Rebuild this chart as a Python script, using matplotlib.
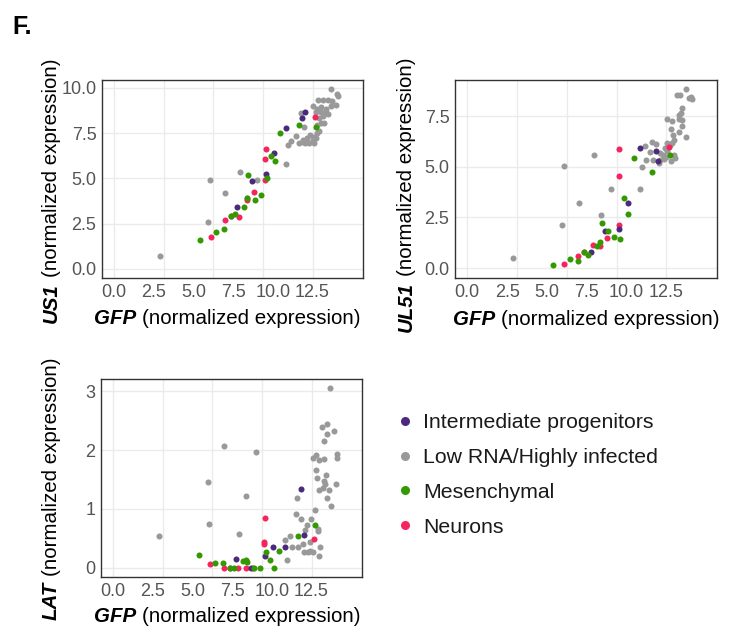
import numpy as np
import matplotlib
matplotlib.use('Agg')
import matplotlib.pyplot as plt
from matplotlib.lines import Line2D

# --- data (GFP on x, viral gene on y) ---
# Intermediate progenitors
gfp_inter = [12.00, 11.83, 10.83, 10.09, 9.55, 8.67, 7.77]
us1_inter = [8.68, 8.32, 7.80, 6.42, 5.23, 4.88, 3.45]
ul51_inter = [5.30, 5.79, 5.95, 3.21, 1.94, 1.84, 0.81]
lat_inter = [0.55, 1.34, 0.35, 0.35, 0.20, 0.00, 0.14]

# Neurons
gfp_neur = [12.68, 9.55, 9.53, 9.51, 8.80, 8.36, 7.88, 7.35, 6.96, 6.10]
us1_neur = [8.37, 6.63, 6.06, 4.90, 4.24, 3.82, 2.86, 2.92, 2.72, 1.76]
ul51_neur = [6.00, 5.89, 4.56, 2.12, 1.51, 1.07, 1.15, 0.81, 0.61, 0.21]
lat_neur = [0.49, 0.84, 0.44, 0.40, 0.00, 0.00, 0.00, 0.00, 0.00, 0.06]

# Mesenchymal
gfp_mes = [12.71, 11.62, 10.45, 9.86, 10.12, 8.46, 9.61, 9.22, 8.86, 8.34, 8.17, 7.61, 7.34, 6.94, 6.42, 5.39]
us1_mes = [7.84, 7.98, 7.49, 6.24, 5.95, 5.21, 5.01, 4.06, 3.82, 3.93, 3.40, 3.05, 2.90, 2.22, 2.06, 1.62]
ul51_mes = [5.58, 4.74, 5.44, 3.47, 2.65, 2.22, 1.43, 1.53, 1.84, 1.27, 1.07, 0.66, 0.77, 0.36, 0.44, 0.13]
lat_mes = [0.73, 0.53, 0.28, 0.13, 0.00, 0.10, 0.26, 0.00, 0.00, 0.13, 0.11, 0.00, 0.00, 0.085, 0.07, 0.22]

# Low RNA / Highly infected (read separately per panel)
gfp_low_us1 = [2.90, 5.94, 6.04, 6.98, 7.92, 8.40, 9.01, 10.80, 13.65, 14.06, 14.09, 12.85, 13.17, 13.50,
               13.75, 13.96, 12.50, 12.75, 13.02, 13.33, 13.65, 11.79, 12.71, 13.02, 13.33, 13.17, 12.92,
               13.25, 13.46, 11.93, 12.81, 13.02, 11.45, 11.14, 10.93, 11.66, 11.91, 12.18, 12.35, 12.60,
               12.81, 12.92, 12.04, 12.29, 12.60, 12.50, 11.87, 12.71]
us1_low = [0.70, 2.61, 4.92, 4.17, 5.38, 3.90, 4.92, 5.82, 9.93, 9.69, 9.56, 9.36, 9.36, 9.33,
           9.27, 9.05, 8.99, 8.86, 8.96, 8.86, 9.01, 8.63, 8.68, 8.65, 8.68, 8.46, 8.32,
           8.09, 8.54, 7.82, 7.95, 8.04, 7.36, 7.07, 6.85, 6.94, 7.12, 7.21, 7.40, 7.31,
           7.49, 7.62, 6.94, 6.94, 6.94, 7.12, 7.03, 7.21]

gfp_low_ul51 = [2.90, 5.94, 6.05, 6.99, 7.93, 8.40, 9.03, 10.83, 10.96, 13.71, 13.19, 13.33, 14.02, 14.13,
                13.92, 13.50, 13.39, 13.29, 12.56, 12.87, 13.29, 13.46, 13.46, 12.77, 13.29, 12.93, 12.97,
                12.87, 13.75, 11.61, 11.13, 11.86, 12.56, 12.72, 12.39, 12.56, 11.50, 12.13, 12.30, 12.45,
                11.23, 11.65, 12.03, 12.13, 12.34, 12.97, 13.04, 12.77]
ul51_low = [0.49, 2.14, 5.02, 3.21, 5.59, 2.63, 3.90, 3.91, 4.97, 8.85, 8.53, 8.53, 8.44, 8.34,
            8.39, 7.89, 7.65, 7.56, 7.35, 7.28, 7.35, 7.32, 7.02, 6.86, 6.74, 6.58, 6.33,
            6.17, 6.46, 6.22, 6.05, 6.13, 6.20, 6.08, 5.92, 5.80, 5.75, 5.67, 5.59, 5.51,
            5.34, 5.34, 5.18, 5.34, 5.38, 5.59, 5.43, 5.29]

gfp_low_lat = [2.90, 6.05, 5.96, 6.99, 8.40, 7.93, 9.00, 13.68, 13.16, 13.48, 13.89, 13.48, 13.29, 14.10,
               14.10, 12.57, 12.78, 12.95, 13.31, 12.80, 13.43, 12.85, 13.26, 13.37, 13.22, 13.58, 14.06,
               12.95, 13.48, 13.73, 11.59, 12.70, 11.52, 11.84, 12.22, 12.49, 12.88, 12.88, 12.11, 12.38,
               10.81, 11.12, 11.27, 11.62, 11.96, 12.00, 12.28, 12.42, 12.57, 13.05, 12.99, 10.96]
lat_low = [0.53, 0.74, 1.45, 2.07, 1.22, 0.58, 1.97, 3.06, 2.40, 2.44, 2.33, 2.28, 2.16, 1.93,
           1.86, 1.87, 1.91, 1.83, 1.85, 1.66, 1.57, 1.53, 1.48, 1.42, 1.36, 1.32, 1.42,
           1.32, 1.18, 1.04, 1.18, 0.98, 0.91, 0.82, 0.73, 0.82, 0.65, 0.62, 0.64, 0.44,
           0.47, 0.53, 0.35, 0.35, 0.40, 0.27, 0.27, 0.29, 0.27, 0.35, 0.19, 0.13]

x_ticks = [0, 2.5, 5, 7.5, 10, 12.5]
x_tick_labels = ['0.0', '2.5', '5.0', '7.5', '10.0', '12.5']

group_names = ['Intermediate progenitors', 'Low RNA/Highly infected', 'Mesenchymal', 'Neurons']
group_colors = ['#4B2A7B', '#999999', '#339900', '#F5245E']

# --- figure layout (pixel based, 741x633) ---
W, H = 741, 633
plt.rcParams['font.family'] = ['Liberation Sans', 'DejaVu Sans']
fig = plt.figure(figsize=(W / 100, H / 100), dpi=100)

def px_axes(left, top, right, bottom):
    return fig.add_axes([left / W, 1 - bottom / H, (right - left) / W, (bottom - top) / H])

def style_panel(ax, ylim, yticks, ytick_labels):
    ax.set_xlim(-0.77, 15.68)
    ax.set_ylim(*ylim)
    ax.set_xticks(x_ticks)
    ax.set_xticklabels(x_tick_labels)
    ax.set_yticks(yticks)
    ax.set_yticklabels(ytick_labels)
    ax.tick_params(length=0, labelsize=13, labelcolor='#555555', pad=4)
    # grid lines sit at their own spacing in the reference
    for g in np.linspace(0, 12.5, 5):
        ax.axvline(g, color='#EBEBEB', lw=1.0, zorder=0)
    for g in yticks:
        ax.axhline(g, color='#EBEBEB', lw=1.0, zorder=0)
    for sp in ax.spines.values():
        sp.set_color('#333333')
        sp.set_linewidth(1.0)

def draw_points(ax, low_x, low_y, inter_y, neur_y, mes_y):
    ax.scatter(low_x, low_y, s=19, color=group_colors[1], linewidths=0, zorder=2)
    ax.scatter(gfp_neur, neur_y, s=19, color=group_colors[3], linewidths=0, zorder=3)
    ax.scatter(gfp_inter, inter_y, s=19, color=group_colors[0], linewidths=0, zorder=4)
    ax.scatter(gfp_mes, mes_y, s=19, color=group_colors[2], linewidths=0, zorder=5)

def gene_label(x_px, y_px, gene, rotation=0, size=14.8):
    renderer = fig.canvas.get_renderer()

    def width(s, **kw):
        t = fig.text(0, 0, s, fontsize=size, **kw)
        w = t.get_window_extent(renderer).width
        t.remove()
        return w

    rest = '(normalized expression)'
    w_gene = width(gene, fontweight='bold', fontstyle='italic')
    w_space = width('a a') - width('aa')
    w_rest = width(rest)
    total = w_gene + w_space + w_rest
    if rotation == 0:
        x0 = x_px - total / 2
        fig.text(x0 / W, 1 - y_px / H, gene, fontsize=size, fontweight='bold', fontstyle='italic',
                 ha='left', va='baseline', color='black')
        fig.text((x0 + w_gene + w_space) / W, 1 - y_px / H, rest, fontsize=size,
                 ha='left', va='baseline', color='black')
    else:
        y0 = y_px + total / 2
        fig.text(x_px / W, 1 - y0 / H, gene, fontsize=size, fontweight='bold', fontstyle='italic',
                 rotation=90, rotation_mode='anchor', ha='left', va='baseline', color='black')
        fig.text(x_px / W, 1 - (y0 - w_gene - w_space) / H, rest, fontsize=size,
                 rotation=90, rotation_mode='anchor', ha='left', va='baseline', color='black')

# US1 panel
ax1 = px_axes(102, 80, 363, 278)
style_panel(ax1, (-0.50, 10.44), [0, 2.5, 5, 7.5, 10], ['0.0', '2.5', '5.0', '7.5', '10.0'])
draw_points(ax1, gfp_low_us1, us1_low, us1_inter, us1_neur, us1_mes)

# UL51 panel
ax2 = px_axes(455, 80, 717, 278)
style_panel(ax2, (-0.49, 9.29), [0, 2.5, 5, 7.5], ['0.0', '2.5', '5.0', '7.5'])
draw_points(ax2, gfp_low_ul51, ul51_low, ul51_inter, ul51_neur, ul51_mes)

# LAT panel
ax3 = px_axes(101, 379, 362, 577)
style_panel(ax3, (-0.16, 3.21), [0, 1, 2, 3], ['0', '1', '2', '3'])
draw_points(ax3, gfp_low_lat, lat_low, lat_inter, lat_neur, lat_mes)

# axis titles
gene_label(227, 324, 'GFP')
gene_label(586, 325, 'GFP')
gene_label(227, 622, 'GFP')
gene_label(57, 191, 'US1', rotation=90)
gene_label(412, 195, 'UL51', rotation=90)
gene_label(57, 489, 'LAT', rotation=90)

# legend
for i, (name, col) in enumerate(zip(group_names, group_colors)):
    yc = 421 + 34.7 * i
    fig.add_artist(Line2D([405 / W], [1 - yc / H], marker='o', ms=6.5, color=col,
                          markeredgewidth=0, linestyle='none', transform=fig.transFigure))
    fig.text(423 / W, 1 - (yc + 7.5) / H, name, fontsize=15.3, ha='left', va='baseline', color='#1A1A1A')

fig.text(12 / W, 1 - 34 / H, 'F.', fontsize=18, fontweight='bold', ha='left', va='baseline')

fig.savefig('out.png', dpi=100)
